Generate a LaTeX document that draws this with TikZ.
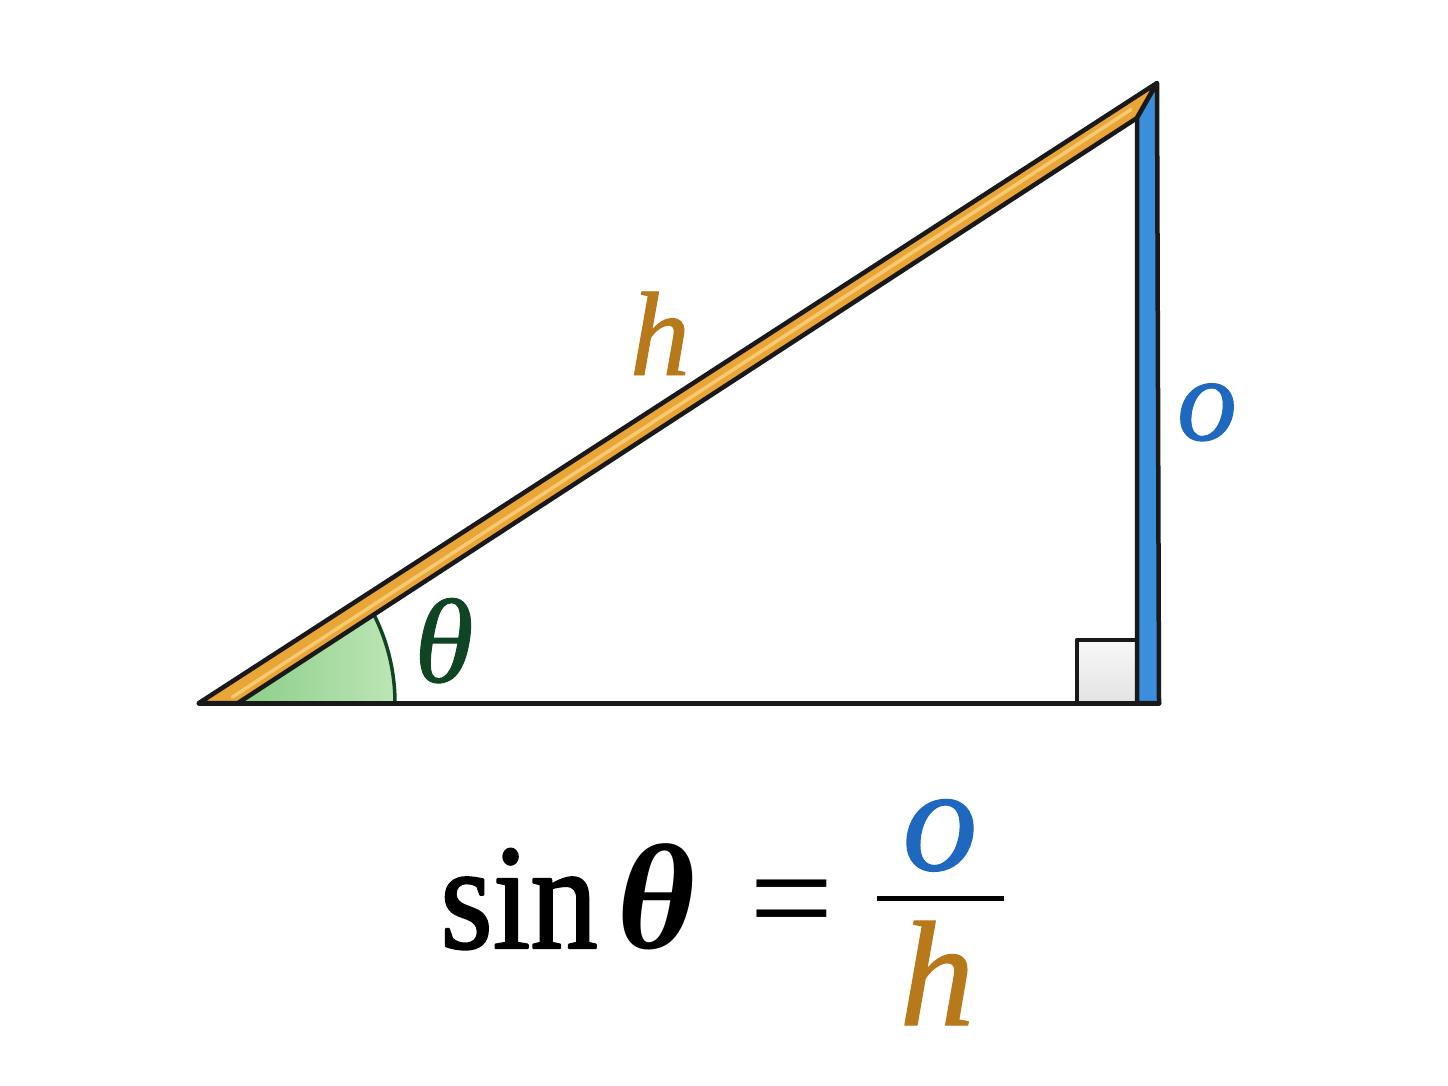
\documentclass[tikz,border=0pt]{standalone}
\usepackage{fontspec}
\setmainfont{Liberation Serif}
\newfontface\sinface{Liberation Serif}[FakeBold=1.6]
\newfontface\itface{Liberation Serif Italic}[FakeBold=0.8]
\usetikzlibrary{calc}
\definecolor{hyp}{HTML}{E9A535}
\definecolor{hyplight}{HTML}{F6C975}
\definecolor{hypdark}{HTML}{B7791A}
\definecolor{opp}{HTML}{3A8EDB}
\definecolor{oppdark}{HTML}{1F68C0}
\definecolor{angA}{HTML}{7CC97A}
\definecolor{angB}{HTML}{BDE5B6}
\definecolor{angline}{HTML}{0F4523}
\begin{document}
\begin{tikzpicture}[x=1pt,y=-1pt,line join=round,
  edge/.style={draw=black!90,line width=4.5pt},
  lbl/.style={inner sep=0pt,anchor=base,font=\fontsize{120}{120}\itface},
  bigtxt/.style={inner sep=0pt,anchor=base,font=\fontsize{150}{150}\selectfont}]
\useasboundingbox (0,0) rectangle (1448,1086);
\fill[white] (0,0) rectangle (1448,1086);
\coordinate (A) at (199,703);
\coordinate (B) at (1157,83);
\coordinate (C) at (1159,703);
\coordinate (Bi) at (1137,118);
\coordinate (Ai) at (238,703);
\coordinate (Ci) at (1137,703);
% angle sector
\shade[left color=angA,right color=angB] (A) -- ++(196pt,0pt) arc[start angle=0,end angle=32.9,radius=196pt] -- cycle;
\draw[angline,line width=3.5pt] (A) ++(196pt,0pt) arc[start angle=0,end angle=32.9,radius=196pt];
% right-angle box
\draw[edge,top color=gray!6,bottom color=gray!22] (1077,640) rectangle (1137,703);
% base
\draw[black!90,line width=5pt,line cap=round] (A) -- (C);
% hypotenuse band
\draw[edge,fill=hyp] (A) -- (B) -- (Bi) -- (Ai) -- cycle;
\draw[hyplight,line width=3.5pt,line cap=round] ($(A)!0.5!(Ai)+(14,-6)$) -- ($(B)!0.5!(Bi)+(-16,9)$);
% opposite band
\draw[edge,fill=opp] (Bi) -- (B) -- (C) -- (Ci) -- cycle;
% labels
\node[lbl,text=hypdark] (hl) at (660,375) {h};
\node[lbl,text=oppdark] (ol) at (1207,440) {o};
\node[lbl,text=angline] (tl) at (444,682) {θ};
% formula
\node[bigtxt,font=\fontsize{150}{150}\sinface] (sin) at (519,948) {\scalebox{0.9}[1]{sin}};
\node[bigtxt,font=\fontsize{150}{150}\selectfont\bfseries\itshape] (th) at (656,948) {θ};
\node[bigtxt] (eq) at (792,948) {=};
\coordinate (fl) at (877,898);
\coordinate (fr) at (1004,898);
\draw[line width=5pt] (fl) -- (fr);
\node[bigtxt,font=\fontsize{150}{150}\itface,text=oppdark] (num) at (940,870) {o};
\node[bigtxt,font=\fontsize{150}{150}\itface,text=hypdark] (den) at (937,1025) {h};
\end{tikzpicture}
\end{document}
